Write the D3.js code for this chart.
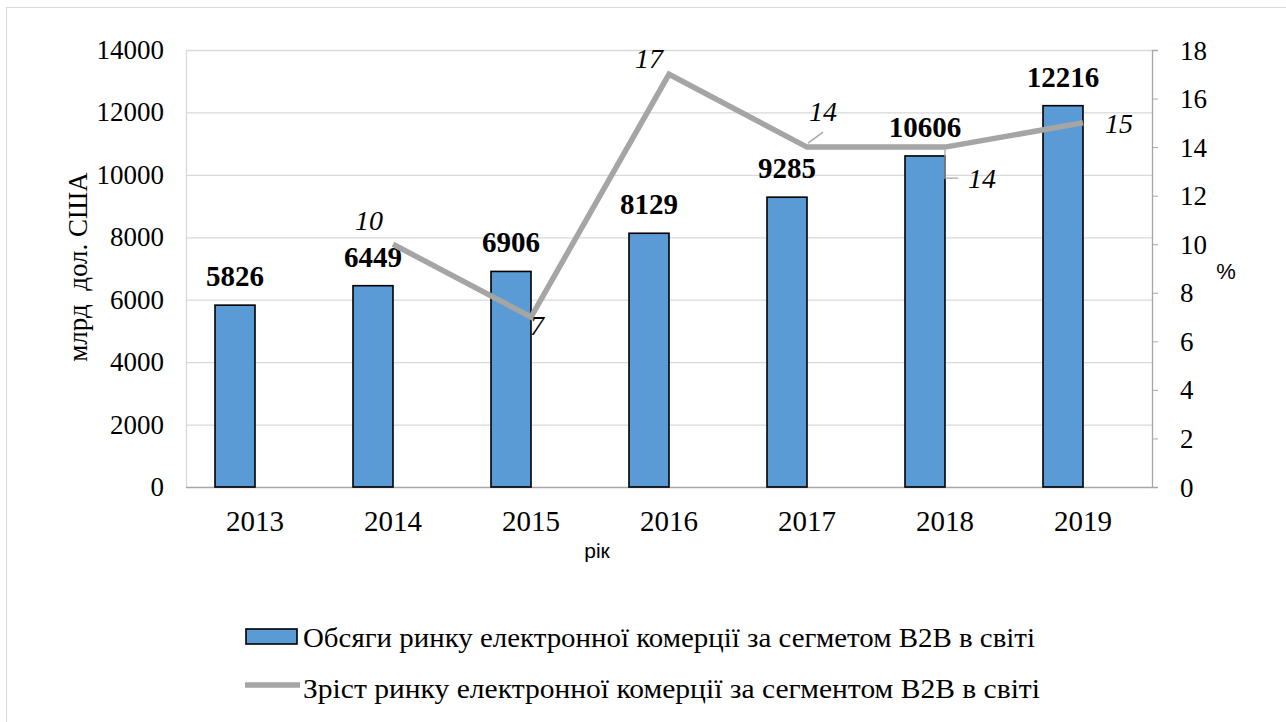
<!DOCTYPE html>
<html><head><meta charset="utf-8">
<script src="https://cdn.jsdelivr.net/npm/d3@7"></script>
<style>body{margin:0;background:#fff}svg{display:block}</style>
</head><body>
<svg id="c" width="1286" height="722"></svg>
<script>
const years = ["2013","2014","2015","2016","2017","2018","2019"];
const volumes = [5826, 6449, 6906, 8129, 9285, 10606, 12216];
const growth = [null, 10, 7, 17, 14, 14, 15];
const leftTicks = [0,2000,4000,6000,8000,10000,12000,14000];
const rightTicks = [0,2,4,6,8,10,12,14,16,18];
const seriesNames = ["Обсяги ринку електронної комерції за сегметом В2В в світі",
                     "Зріст ринку електронної комерції за сегментом В2В в світі"];

const svg = d3.select("#c");
const serif = "Liberation Serif, Times New Roman, serif";
const sans = "Liberation Sans, Arial, sans-serif";
const L = 186, R = 1152, T = 50, B = 487;

svg.append("rect").attr("x",6.5).attr("y",7.5).attr("width",1290).attr("height",730)
  .attr("fill","#fff").attr("stroke","#d9d9d9");

const x = d3.scaleBand().domain(years).range([L,R]).padding(0);
const cx = d => x(d) + x.bandwidth()/2;
const yL = d3.scaleLinear().domain([0,14000]).range([B,T]);
const yR = d3.scaleLinear().domain([0,18]).range([B,T]);

// grid
svg.append("g").selectAll("line").data(leftTicks.filter(d=>d>0)).join("line")
  .attr("x1",L).attr("x2",R).attr("y1",d=>yL(d)+0.5).attr("y2",d=>yL(d)+0.5)
  .attr("stroke","#d9d9d9").attr("stroke-width",1.3);
svg.append("line").attr("x1",L+0.5).attr("x2",L+0.5).attr("y1",T).attr("y2",B)
  .attr("stroke","#d9d9d9").attr("stroke-width",1.3);

// left tick labels
svg.append("g").selectAll("text").data(leftTicks).join("text")
  .attr("x",164).attr("y",d=>yL(d)+9).attr("text-anchor","end")
  .style("font-family",serif).style("font-size","27px").text(d=>d);

// right axis
const ra = svg.append("g").attr("transform",`translate(${R},0)`)
  .call(d3.axisRight(yR).tickValues(rightTicks).tickSize(6).tickPadding(22).tickFormat(d=>d));
ra.attr("font-family",null).attr("font-size",null);
ra.select(".domain").attr("stroke","#a6a6a6").attr("stroke-width",1.3);
ra.selectAll(".tick line").attr("stroke","#a6a6a6");
ra.selectAll(".tick text").attr("dy",null).attr("y",9).style("font-family",serif).style("font-size","27px").attr("fill","#000");

// bottom axis
svg.append("line").attr("x1",L).attr("x2",R).attr("y1",B+0.5).attr("y2",B+0.5)
  .attr("stroke","#a6a6a6").attr("stroke-width",1.5);
svg.append("g").selectAll("text").data(years).join("text")
  .attr("x",d=>cx(d)).attr("y",531).attr("text-anchor","middle")
  .style("font-family",serif).style("font-size","29px").text(d=>d);

// bars
const bw = 40;
svg.append("g").selectAll("rect").data(volumes).join("rect")
  .attr("x",(d,i)=>cx(years[i])-bw)
  .attr("y",d=>yL(d)).attr("width",bw).attr("height",d=>B-yL(d))
  .attr("fill","#5b9bd5").attr("stroke","#000").attr("stroke-width",1.6);
svg.append("g").selectAll("text").data(volumes).join("text")
  .attr("x",(d,i)=>cx(years[i])-bw/2)
  .attr("y",d=>yL(d)-19).attr("text-anchor","middle")
  .style("font-family",serif).style("font-size","29px").style("font-weight","bold").text(d=>d);

// line
const pts = growth.map((v,i)=>({v, xx:cx(years[i])})).filter(p=>p.v!==null);
svg.append("path").datum(pts)
  .attr("d",d3.line().x(p=>p.xx).y(p=>yR(p.v)))
  .attr("fill","none").attr("stroke","#a5a5a5").attr("stroke-width",5.5).attr("stroke-linejoin","miter");

// line labels: [dx of centre, dy of baseline]
const off = [null,[-24,-14],[6,18],[-20,-6],[16,-26],[37,41],[36,10]];
growth.forEach((v,i)=>{
  if(v===null) return;
  const o = off[i];
  svg.append("text").attr("x",cx(years[i])+o[0]).attr("y",yR(v)+o[1])
    .attr("text-anchor","middle").style("font-family",serif).style("font-size","28px")
    .style("font-style","italic").text(v);
});
// leader lines
svg.append("path").attr("d",`M${cx("2017")+1},${yR(14)-4}L${cx("2017")+16},${yR(14)-15}`)
  .attr("stroke","#a5a5a5").attr("stroke-width",1.3).attr("fill","none");
svg.append("path").attr("d",`M${cx("2018")},${yR(14)+3}L${cx("2018")},${yR(14)+31}L${cx("2018")+13},${yR(14)+31}`)
  .attr("stroke","#a5a5a5").attr("stroke-width",1.3).attr("fill","none");

// axis titles
svg.append("text").attr("transform","translate(87,267) rotate(-90)").attr("text-anchor","middle")
  .style("font-family",serif).style("font-size","27px").style("white-space","pre").text("млрд  дол. США");
svg.append("text").attr("x",1226).attr("y",279).attr("text-anchor","middle")
  .style("font-family",sans).style("font-size","22px").text("%");
svg.append("text").attr("x",597).attr("y",558).attr("text-anchor","middle")
  .style("font-family",sans).style("font-size","21px").text("рік");

// legend
svg.append("rect").attr("x",246).attr("y",629).attr("width",51).attr("height",15)
  .attr("fill","#5b9bd5").attr("stroke","#000").attr("stroke-width",1.6);
svg.append("line").attr("x1",245).attr("x2",300).attr("y1",685).attr("y2",685)
  .attr("stroke","#a5a5a5").attr("stroke-width",5.5);
svg.append("text").attr("x",303).attr("y",647).attr("textLength",732).attr("lengthAdjust","spacingAndGlyphs")
  .style("font-family",serif).style("font-size","27px").text(seriesNames[0]);
svg.append("text").attr("x",303).attr("y",698).attr("textLength",737).attr("lengthAdjust","spacingAndGlyphs")
  .style("font-family",serif).style("font-size","27px").text(seriesNames[1]);
</script>
</body></html>
